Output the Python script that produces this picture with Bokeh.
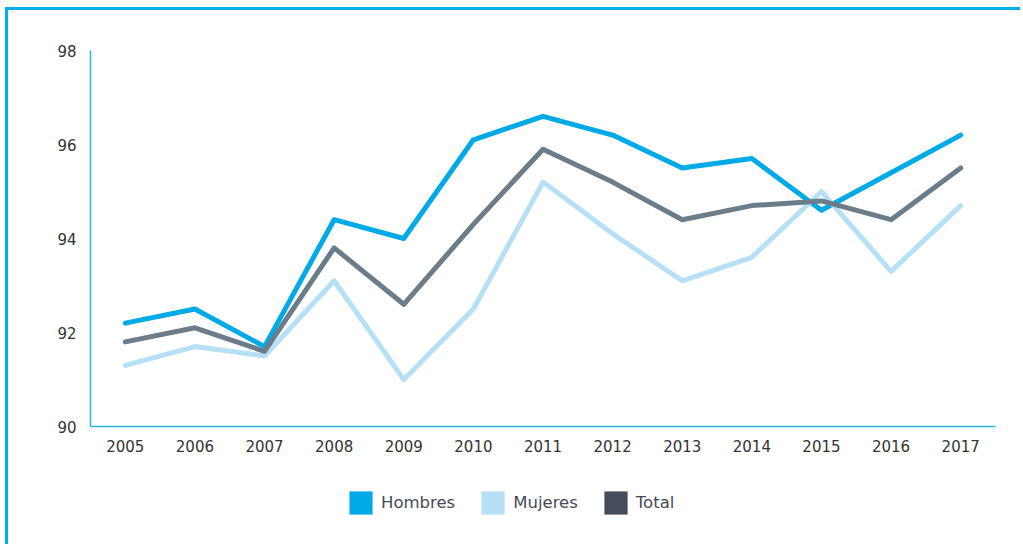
from bokeh.plotting import figure
from bokeh.layouts import column
from bokeh.models import Range1d, FixedTicker, Legend, LegendItem
from bokeh.embed import file_html
from bokeh.resources import INLINE

years = [2005, 2006, 2007, 2008, 2009, 2010, 2011, 2012, 2013, 2014, 2015, 2016, 2017]
hombres = [92.2, 92.5, 91.7, 94.4, 94.0, 96.1, 96.6, 96.2, 95.5, 95.7, 94.6, 95.4, 96.2]
mujeres = [91.3, 91.7, 91.5, 93.1, 91.0, 92.5, 95.2, 94.1, 93.1, 93.6, 95.0, 93.3, 94.7]
total = [91.8, 92.1, 91.6, 93.8, 92.6, 94.3, 95.9, 95.2, 94.4, 94.7, 94.8, 94.4, 95.5]
y_ticks = [90, 92, 94, 96, 98]
series_names = ["Hombres", "Mujeres", "Total"]

FONT = "DejaVu Sans"
C_H = "#00aae6"
C_M = "#b5e0f6"
C_T = "#6b7d8a"
C_T_SW = "#464c5a"
FRAME = "3px solid #00aeea"

p = figure(width=1015, height=460, output_backend="svg", toolbar_location=None,
           x_range=Range1d(years[0] - 0.5, years[-1] + 0.5), y_range=Range1d(y_ticks[0], y_ticks[-1]),
           min_border_left=82, min_border_right=28, min_border_top=40, min_border_bottom=44)
p.styles = {"border-top": FRAME, "border-left": FRAME, "margin-left": "5px", "margin-top": "7px"}
p.outline_line_color = None
p.xgrid.visible = False
p.ygrid.visible = False

for ax in (p.xaxis[0], p.yaxis[0]):
    ax.axis_line_color = "#2cb3e6"
    ax.axis_line_width = 1.5
    ax.major_tick_line_color = None
    ax.minor_tick_line_color = None
    ax.major_label_text_font = FONT
    ax.major_label_text_font_size = "15px"
    ax.major_label_text_color = "#333333"
p.xaxis[0].ticker = FixedTicker(ticks=years)
p.yaxis[0].ticker = FixedTicker(ticks=y_ticks)
p.xaxis[0].major_label_standoff = 7
p.yaxis[0].major_label_standoff = 8

p.line(years, hombres, line_color=C_H, line_width=5, line_cap="round", line_join="round")
p.line(years, mujeres, line_color=C_M, line_width=5, line_cap="round", line_join="round")
p.line(years, total, line_color=C_T, line_width=5, line_cap="round", line_join="round")

# legend strip below the chart
p2 = figure(width=1015, height=77, output_backend="svg", toolbar_location=None,
            x_axis_location=None, y_axis_location=None,
            min_border_left=0, min_border_right=0, min_border_top=0, min_border_bottom=0)
p2.styles = {"border-left": FRAME, "margin-left": "5px"}
p2.outline_line_color = None
p2.xgrid.visible = False
p2.ygrid.visible = False

swatches = []
for vals, col in ((hombres, C_H), (mujeres, C_M), (total, C_T_SW)):
    r = p2.quad(left=[years[0]], right=[years[0]], top=[vals[0]], bottom=[vals[0]],
                fill_color=col, line_color=None)
    r.visible = False
    swatches.append(r)

legend = Legend(items=[LegendItem(label=n, renderers=[r]) for n, r in zip(series_names, swatches)],
                orientation="horizontal", location=(256, 27),
                glyph_width=29, glyph_height=29, label_standoff=6, spacing=23,
                label_text_font=FONT, label_text_font_size="16.5px", label_text_color="#454a57",
                border_line_color=None, background_fill_alpha=0, padding=0, margin=0,
                label_height=29)
p2.add_layout(legend, "center")

layout = column(p, p2, spacing=0)
open("out.html", "w").write(file_html(layout, INLINE))
